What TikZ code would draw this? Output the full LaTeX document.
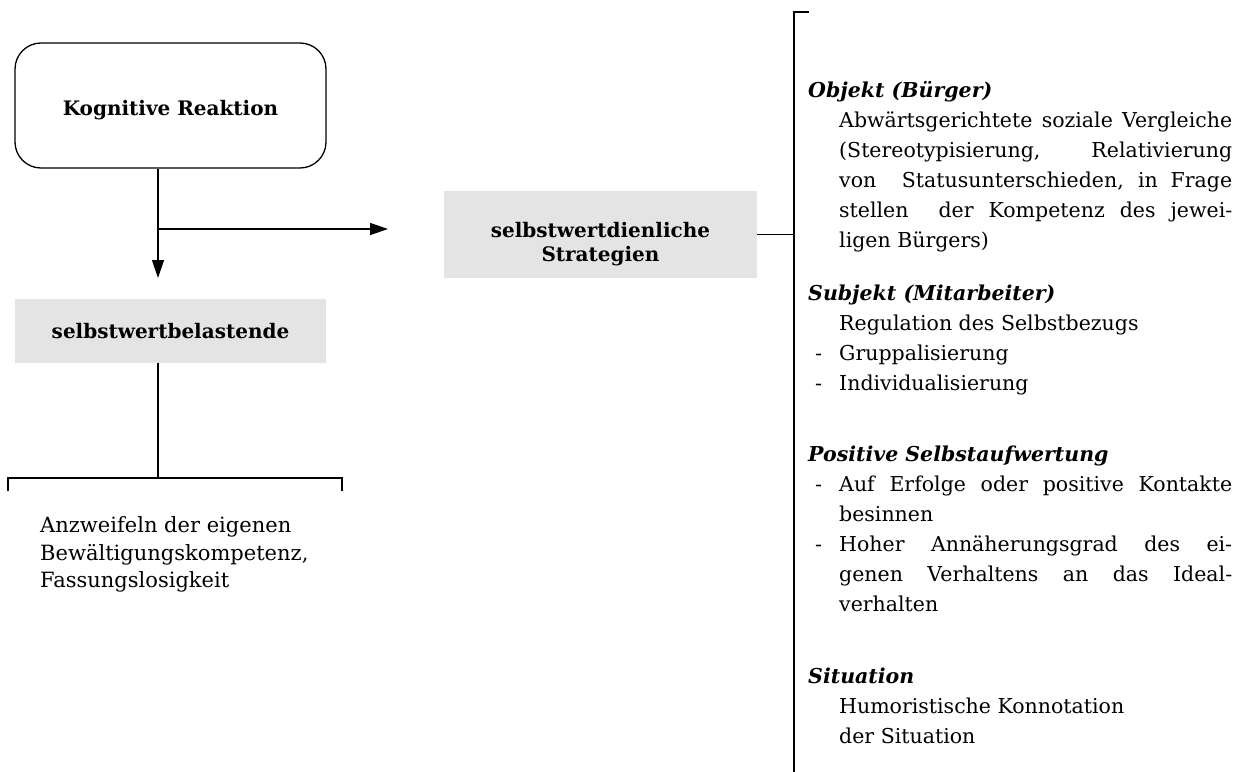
\documentclass[tikz,border=0pt]{standalone}
\usepackage{fontspec}
\setmainfont{DejaVu Serif}
\usetikzlibrary{arrows.meta}
\definecolor{boxgray}{RGB}{227,228,227}
\newcommand{\jl}[1]{\makebox[393pt][s]{#1}}
\begin{document}
\begin{tikzpicture}[x=1pt,y=-1pt,
  txt/.style={font=\fontsize{20.5}{24}\selectfont, inner sep=0pt, anchor=base west},
  ltxt/.style={txt, font=\fontsize{21}{24}\selectfont},
  hd/.style={font=\fontsize{20.5}{24}\selectfont\bfseries\itshape, inner sep=0pt, anchor=base west},
  lbl/.style={font=\fontsize{20}{23}\selectfont\bfseries, align=center, inner sep=0pt},
  clbl/.style={lbl, anchor=base},
  greybox/.style={lbl, fill=boxgray},
  conn/.style={line width=1.3pt},
  arr/.style={conn, -{Triangle[length=18pt,width=12pt]}}]
\useasboundingbox (0,0) rectangle (1244,771);

% left column
\node[lbl, draw, line width=1.3pt, rounded corners=26pt, minimum width=311pt, minimum height=125pt, text height=20pt, text depth=0pt] (kog) at (170.5,105.5) {Kognitive Reaktion};
\node[greybox, minimum width=311pt, minimum height=64pt] (bel) at (170.5,331) {selbstwertbelastende};
\coordinate (branch) at (158,229);
\coordinate (tipD) at (158,278);
\coordinate (tipR) at (388,229);
\draw[arr] (kog.south -| branch) -- (branch) -- (tipD);
\draw[arr] (branch) -- (tipR);

\coordinate (brk) at (158,478);
\coordinate (brL) at (8,478);
\coordinate (brR) at (342,478);
\coordinate (brLd) at (8,491);
\coordinate (brRd) at (342,491);
\draw[conn] (bel.south -| brk) -- (brk);
\draw[conn] (brLd) -- (brL) -- (brR) -- (brRd);

\node[ltxt] (a1) at (40,532) {Anzweifeln der eigenen};
\node[ltxt] (a2) at (40,560) {Bewältigungskompetenz,};
\node[ltxt] (a3) at (40,587) {Fassungslosigkeit};

% middle
\node[fill=boxgray, inner sep=0pt, minimum width=313pt, minimum height=87pt] (strat) at (600.5,234.5) {};
\node[clbl] (st1) at (600.5,237) {selbstwertdienliche};
\node[clbl] (st2) at (600.5,261) {Strategien};
\coordinate (vtop) at (794,12);
\coordinate (vbot) at (794,775);
\coordinate (vtick) at (809,12);
\draw[conn] (strat.east) -- (strat.east -| vtop);
\draw[conn] (vtick) -- (vtop) -- (vbot);

% right column
\node[hd] (h1) at (808,97) {Objekt (Bürger)};
\node[txt] (o1) at (839,127) {\jl{Abwärtsgerichtete soziale Vergleiche}};
\node[txt] (o2) at (839,157) {\jl{(Stereotypisierung, Relativierung}};
\node[txt] (o3) at (839,187) {\jl{von \ Statusunterschieden, in Frage}};
\node[txt] (o4) at (839,217) {\jl{stellen \ der Kompetenz des jewei-}};
\node[txt] (o5) at (839,247) {ligen Bürgers)};

\node[hd] (h2) at (808,300) {Subjekt (Mitarbeiter)};
\node[txt] (s1) at (839,330) {Regulation des Selbstbezugs};
\node[txt] (d1) at (815,360) {-};
\node[txt] (s2) at (839,360) {Gruppalisierung};
\node[txt] (d2) at (815,390) {-};
\node[txt] (s3) at (839,390) {Individualisierung};

\node[hd] (h3) at (808,461) {Positive Selbstaufwertung};
\node[txt] (d3) at (815,491) {-};
\node[txt] (p1) at (839,491) {\jl{Auf Erfolge oder positive Kontakte}};
\node[txt] (p2) at (839,521) {besinnen};
\node[txt] (d4) at (815,551) {-};
\node[txt] (p3) at (839,551) {\jl{Hoher Annäherungsgrad des ei-}};
\node[txt] (p4) at (839,581) {\jl{genen Verhaltens an das Ideal-}};
\node[txt] (p5) at (839,611) {verhalten};

\node[hd] (h4) at (808,683) {Situation};
\node[txt] (u1) at (839,713) {Humoristische Konnotation};
\node[txt] (u2) at (839,743) {der Situation};
\end{tikzpicture}
\end{document}
